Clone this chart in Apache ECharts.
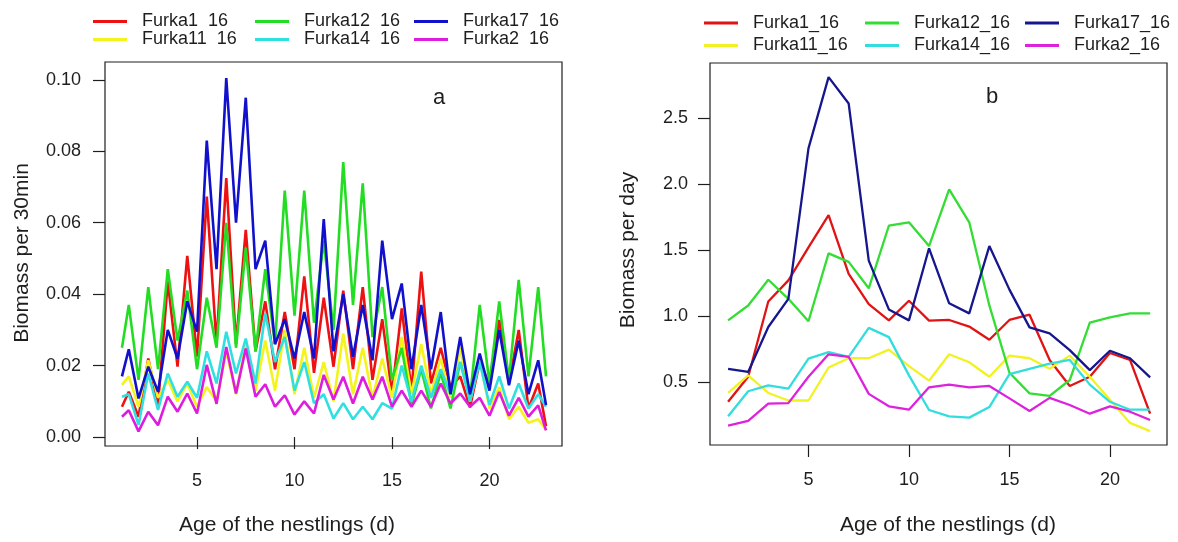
<!DOCTYPE html>
<html>
<head>
<meta charset="utf-8">
<script src="https://cdn.jsdelivr.net/npm/echarts@6/dist/echarts.min.js"></script>
<style>
  html, body { margin: 0; padding: 0; background: #fff; }
  #chart { width: 1178px; height: 542px; }
</style>
</head>
<body>
<div id="chart"></div>
<script>
// panel a: time in days, night lows on whole days, midday peaks on half days
var sampleDays = [1.15, 1.5, 2, 2.5, 3, 3.5, 4, 4.5, 5, 5.5, 6, 6.5, 7, 7.5, 8, 8.5, 9, 9.5, 10, 10.5,
  11, 11.5, 12, 12.5, 13, 13.5, 14, 14.5, 15, 15.5, 16, 16.5, 17, 17.5, 18, 18.5, 19, 19.5, 20, 20.5,
  21, 21.5, 22, 22.5, 22.9]

// biomass per 30 min (peak, next low) per day
var furka1Half = [0.0085,
  0.0127, 0.0057, 0.022, 0.009, 0.0435, 0.0197, 0.0507, 0.0225, 0.0673, 0.026,
  0.0725, 0.026, 0.058, 0.024, 0.038, 0.019, 0.035, 0.019, 0.045, 0.018,
  0.039, 0.0197, 0.041, 0.019, 0.042, 0.016, 0.033, 0.0123, 0.036, 0.013,
  0.0463, 0.015, 0.025, 0.014, 0.017, 0.0083, 0.021, 0.0147, 0.0328, 0.015,
  0.030, 0.008, 0.015, 0.003]
var furka11Half = [0.0146,
  0.017, 0.0085, 0.0215, 0.011, 0.016, 0.010, 0.015, 0.0085, 0.014, 0.010,
  0.024, 0.012, 0.026, 0.013, 0.027, 0.013, 0.030, 0.012, 0.025, 0.011,
  0.021, 0.010, 0.029, 0.012, 0.025, 0.011, 0.022, 0.011, 0.028, 0.012,
  0.026, 0.012, 0.022, 0.011, 0.025, 0.010, 0.022, 0.008, 0.014, 0.005,
  0.0085, 0.004, 0.005, 0.002]
var furka12Half = [0.025,
  0.037, 0.016, 0.042, 0.019, 0.047, 0.027, 0.041, 0.019, 0.039, 0.025,
  0.060, 0.025, 0.053, 0.024, 0.047, 0.026, 0.069, 0.034, 0.069, 0.032,
  0.055, 0.030, 0.077, 0.037, 0.071, 0.028, 0.042, 0.016, 0.025, 0.009,
  0.019, 0.008, 0.018, 0.008, 0.021, 0.011, 0.037, 0.015, 0.038, 0.016,
  0.044, 0.017, 0.042, 0.017]
var furka14Half = [0.0113,
  0.012, 0.0034, 0.0178, 0.0076, 0.0178, 0.0113, 0.0155, 0.011, 0.024, 0.015,
  0.0295, 0.0178, 0.0276, 0.015, 0.0346, 0.021, 0.028, 0.013, 0.021, 0.0095,
  0.012, 0.0052, 0.0095, 0.005, 0.0085, 0.005, 0.0095, 0.008, 0.020, 0.010,
  0.020, 0.011, 0.019, 0.012, 0.021, 0.010, 0.021, 0.009, 0.017, 0.008,
  0.015, 0.008, 0.012, 0.0085]
var furka17Half = [0.017,
  0.0246, 0.0108, 0.0197, 0.0127, 0.030, 0.022, 0.038, 0.0295, 0.083, 0.047,
  0.1005, 0.060, 0.095, 0.047, 0.055, 0.026, 0.033, 0.022, 0.035, 0.022,
  0.061, 0.024, 0.040, 0.0225, 0.037, 0.0215, 0.055, 0.033, 0.043, 0.019,
  0.037, 0.019, 0.035, 0.012, 0.028, 0.012, 0.0234, 0.013, 0.030, 0.0145,
  0.027, 0.012, 0.0215, 0.009]
var furka2Half = [0.0057,
  0.0075, 0.0016, 0.0071, 0.0033, 0.0113, 0.0071, 0.0122, 0.0066, 0.0202, 0.0093,
  0.0252, 0.0122, 0.0248, 0.0113, 0.0148, 0.0085, 0.0117, 0.0063, 0.0100, 0.0066,
  0.0174, 0.0105, 0.0169, 0.0094, 0.0169, 0.0105, 0.0169, 0.0085, 0.013, 0.0085,
  0.013, 0.0085, 0.015, 0.0094, 0.0122, 0.0085, 0.011, 0.006, 0.0126, 0.006,
  0.011, 0.0057, 0.0089, 0.0019]

// panel b: biomass per day
var days = [1, 2, 3, 4, 5, 6, 7, 8, 9, 10, 11, 12, 13, 14, 15, 16, 17, 18, 19, 20, 21, 22]
var furka1Day = [0.35, 0.54, 1.11, 1.27, 1.52, 1.765, 1.32, 1.09, 0.967, 1.116, 0.965, 0.97, 0.92, 0.82, 0.97, 1.01, 0.667, 0.47, 0.54, 0.72, 0.667, 0.26]
var furka11Day = [0.417, 0.55, 0.417, 0.36, 0.36, 0.61, 0.68, 0.68, 0.745, 0.62, 0.51, 0.71, 0.65, 0.54, 0.70, 0.68, 0.60, 0.70, 0.54, 0.365, 0.19, 0.128]
var furka12Day = [0.967, 1.08, 1.275, 1.13, 0.96, 1.475, 1.41, 1.21, 1.684, 1.71, 1.53, 1.96, 1.71, 1.08, 0.57, 0.414, 0.395, 0.515, 0.95, 0.99, 1.02, 1.02]
var furka14Day = [0.24, 0.43, 0.475, 0.45, 0.677, 0.727, 0.69, 0.91, 0.84, 0.55, 0.288, 0.24, 0.23, 0.31, 0.56, 0.6, 0.64, 0.667, 0.48, 0.35, 0.29, 0.29]
var furka17Day = [0.60, 0.576, 0.917, 1.13, 2.27, 2.81, 2.61, 1.42, 1.05, 0.967, 1.513, 1.096, 1.02, 1.53, 1.2, 0.914, 0.869, 0.742, 0.59, 0.737, 0.68, 0.535]
var furka2Day = [0.17, 0.205, 0.336, 0.34, 0.54, 0.71, 0.69, 0.41, 0.316, 0.29, 0.46, 0.48, 0.46, 0.47, 0.376, 0.28, 0.38, 0.326, 0.26, 0.315, 0.275, 0.212]

// tick labels
var ticksAX = [5, 10, 15, 20]
var ticksAY = [0, 0.02, 0.04, 0.06, 0.08, 0.10]
var ticksBX = [5, 10, 15, 20]
var ticksBY = [0.5, 1.0, 1.5, 2.0, 2.5]

var namesA = ['Furka1  16', 'Furka11  16', 'Furka12  16', 'Furka14  16', 'Furka17  16', 'Furka2  16']
var namesB = ['Furka1_16', 'Furka11_16', 'Furka12_16', 'Furka14_16', 'Furka17_16', 'Furka2_16']
var colorsA = ['#ee1111', '#f4f41c', '#22dd22', '#30e0e0', '#1111cc', '#dd1cdd']
var colorsB = ['#e01414', '#f2f222', '#33dd33', '#33dddd', '#16168e', '#dd22dd']

var FONT = '"Liberation Sans", Arial, sans-serif'
var INK = '#1e1e1e'

function pairs(xs, ys) {
  return ys.map(function(v, i) { return [xs[i], v] })
}

function lineSeries(name, color, xi, data, width) {
  return {
    name: name,
    type: 'line',
    xAxisIndex: xi,
    yAxisIndex: xi,
    showSymbol: false,
    symbol: 'none',
    lineStyle: { color: color, width: width },
    itemStyle: { color: color },
    emphasis: { disabled: true },
    data: data
  }
}

function colLegend(left, top, names, lineH, gap) {
  return {
    orient: 'vertical',
    left: left,
    top: top,
    padding: 0,
    itemGap: gap,
    itemWidth: 34,
    itemHeight: 3,
    icon: 'rect',
    selectedMode: false,
    data: names,
    textStyle: { fontFamily: FONT, fontSize: 18, color: INK, lineHeight: lineH, padding: [0, 0, 0, 10] }
  }
}

function xAxis(gi, min, max, ticks) {
  return {
    type: 'value', gridIndex: gi, min: min, max: max,
    axisLine: { show: false },
    splitLine: { show: false },
    axisTick: { show: true, length: 12, customValues: ticks, lineStyle: { color: INK, width: 1.2 } },
    axisLabel: { customValues: ticks, fontFamily: FONT, fontSize: 18, color: INK, margin: 26 }
  }
}

function yAxis(gi, min, max, ticks, digits, margin) {
  return {
    type: 'value', gridIndex: gi, min: min, max: max,
    axisLine: { show: false },
    splitLine: { show: false },
    axisTick: { show: true, length: 12, customValues: ticks, lineStyle: { color: INK, width: 1.2 } },
    axisLabel: {
      customValues: ticks, fontFamily: FONT, fontSize: 18, color: INK, margin: margin,
      formatter: function(v) { return v.toFixed(digits) }
    }
  }
}

function label(text, x, y, size, rot) {
  return {
    type: 'text', x: x, y: y, rotation: rot || 0,
    style: { text: text, font: size + 'px ' + FONT, fill: INK, align: 'center', verticalAlign: 'middle' }
  }
}

var valuesA = [furka1Half, furka11Half, furka12Half, furka14Half, furka17Half, furka2Half]
var valuesB = [furka1Day, furka11Day, furka12Day, furka14Day, furka17Day, furka2Day]

var series = []
valuesA.forEach(function(v, i) { series.push(lineSeries(namesA[i], colorsA[i], 0, pairs(sampleDays, v), 2.6)) })
valuesB.forEach(function(v, i) { series.push(lineSeries(namesB[i], colorsB[i], 1, pairs(days, v), 2.3)) })

var chart = echarts.init(document.getElementById('chart'), null, { renderer: 'canvas' })
chart.setOption({
  animation: false,
  backgroundColor: '#fff',
  grid: [
    { left: 105, top: 62, right: 616, bottom: 96, show: true, borderColor: INK, borderWidth: 1.2 },
    { left: 710, top: 63, right: 11, bottom: 97, show: true, borderColor: INK, borderWidth: 1.2 }
  ],
  xAxis: [xAxis(0, 0.28, 23.72, ticksAX), xAxis(1, 0.1, 22.84, ticksBX)],
  yAxis: [yAxis(0, -0.0025, 0.105, ticksAY, 2, 24), yAxis(1, 0.0227, 2.917, ticksBY, 1, 22)],
  legend: [
    colLegend(93, 12.5, [namesA[0], namesA[1]], 17, 0),
    colLegend(255, 12.5, [namesA[2], namesA[3]], 17, 0),
    colLegend(414, 12.5, [namesA[4], namesA[5]], 17, 0),
    colLegend(704, 14, [namesB[0], namesB[1]], 18, 4.5),
    colLegend(865, 14, [namesB[2], namesB[3]], 18, 4.5),
    colLegend(1025, 14, [namesB[4], namesB[5]], 18, 4.5)
  ],
  graphic: [
    label('a', 439, 98, 22),
    label('b', 992, 97, 22),
    label('Age of the nestlings (d)', 287, 525, 21),
    label('Age of the nestlings (d)', 948, 525, 21),
    label('Biomass per 30min', 22, 253, 21, Math.PI / 2),
    label('Biomass per day', 628, 250, 21, Math.PI / 2)
  ],
  series: series
})
</script>
</body>
</html>
